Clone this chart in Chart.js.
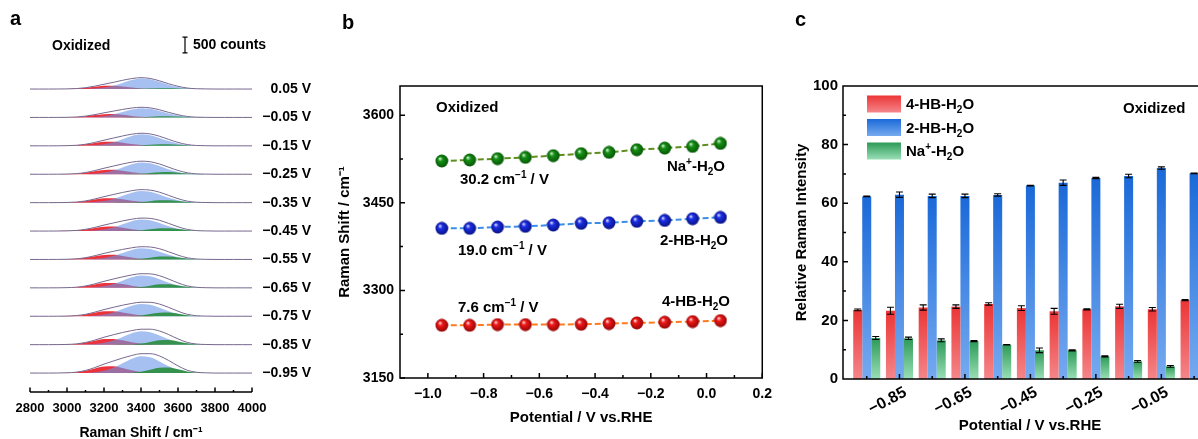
<!DOCTYPE html>
<html>
<head>
<meta charset="utf-8">
<script src="https://cdn.jsdelivr.net/npm/chart.js@4.4.1/dist/chart.umd.min.js"></script>
<style>
html, body { margin:0; padding:0; background:#fff; overflow:hidden; width:1198px; height:439px; position:relative; }
canvas { position:absolute; top:0; }
</style>
</head>
<body>
<canvas id="ca" width="330" height="439" style="left:0;width:330px;height:439px"></canvas>
<canvas id="cb" width="450" height="439" style="left:330px;width:450px;height:439px"></canvas>
<canvas id="cc" width="432" height="439" style="left:790px;width:432px;height:439px"></canvas>
<script>
// ---------- panel a : stacked Raman spectra ----------
const ramanX = [2800,2850,2900,2950,3000,3050,3100,3150,3200,3250,3300,3350,3400,
                3450,3500,3550,3600,3650,3700,3750,3800,3850,3900,3950,4000];
const ramanTicks = [2800,3000,3200,3400,3600,3800,4000];
const spectraLabels = ['0.05 V','\u22120.05 V','\u22120.15 V','\u22120.25 V','\u22120.35 V','\u22120.45 V',
                       '\u22120.55 V','\u22120.65 V','\u22120.75 V','\u22120.85 V','\u22120.95 V'];
// fitted component shapes (normalised)
const redShape   = [0,0,0,0.01,0.04,0.13,0.35,0.67,0.95,0.98,0.74,0.41,0.17,0.05,0.01,0,0,0,0,0,0,0,0,0,0];
const blueShape  = [0,0,0,0,0,0,0.01,0.05,0.14,0.31,0.58,0.85,1.0,0.93,0.69,0.41,0.2,0.07,0.02,0.01,0,0,0,0,0];
const greenShape = [0,0,0,0,0,0,0,0,0,0,0.01,0.06,0.22,0.57,0.92,0.96,0.65,0.28,0.08,0.01,0,0,0,0,0];
// peak heights in counts, top trace (0.05 V) first
const redAmp   = [110,110,135,145,145,145,150,160,165,185,220];
const blueAmp  = [335,295,365,375,370,365,355,395,390,425,535];
const greenAmp = [30,40,55,70,80,95,100,120,125,150,185];
const GAP = 900;

// ---------- panel b : peak positions ----------
const potB = [-0.95,-0.85,-0.75,-0.65,-0.55,-0.45,-0.35,-0.25,-0.15,-0.05,0.05];
const naShift  = [3521.6,3523.3,3525.6,3527.8,3530.7,3534.1,3536.4,3540.9,3543.7,3546.6,3551.7];
const hb2Shift = [3406.3,3406.3,3408.5,3409.7,3411.9,3414.8,3415.9,3418.2,3419.9,3422.7,3425.0];
const hb4Shift = [3240.3,3240.3,3241.5,3241.5,3241.5,3242.0,3243.2,3244.3,3245.5,3246.6,3248.3];
const bXTicks = [-1.0,-0.8,-0.6,-0.4,-0.2,0.0,0.2];
const bYTicks = [3150,3300,3450,3600];

// ---------- panel c : relative intensities ----------
const potC = [-0.95,-0.85,-0.75,-0.65,-0.55,-0.45,-0.35,-0.25,-0.15,-0.05,0.05];
const hb4Int = [23.6,23.3,24.4,24.7,25.6,24.2,23.1,23.8,24.8,23.8,26.9];
const hb4Err = [0.3,1.2,0.9,0.6,0.4,0.8,1.0,0.2,0.7,0.6,0.2];
const hb2Int = [62.3,62.9,62.5,62.5,62.8,66.0,67.0,68.6,69.3,72.0,70.2];
const hb2Err = [0.1,0.9,0.6,0.6,0.4,0.1,0.9,0.2,0.6,0.4,0.1];
const naInt  = [14.0,13.9,13.2,12.9,11.7,9.8,9.8,7.7,6.0,4.3,2.9];
const naErr  = [0.5,0.4,0.5,0.2,0.1,0.8,0.2,0.2,0.3,0.3,0.2];
const cXTicks = [-0.85,-0.65,-0.45,-0.25,-0.05];
const cYTicks = [0,20,40,60,80,100];

const FONT = '"Liberation Sans", Arial, Helvetica, sans-serif';
Chart.defaults.font.family = FONT;
Chart.defaults.font.weight = 'bold';
Chart.defaults.color = '#000';

function minus(v, d) { return (v < 0 ? '\u2212' : '') + Math.abs(v).toFixed(d); }

// text with ^{sup} and _{sub}
function rich(ctx, str, x, y, size, align) {
  const parts = [];
  const re = /([\^_])\{([^}]*)\}|([^\^_]+)/g;
  let m;
  while ((m = re.exec(str))) {
    if (m[3]) parts.push([m[3], 0]);
    else parts.push([m[2], m[1] === '^' ? 1 : -1]);
  }
  const small = Math.round(size * 0.65);
  let w = 0;
  parts.forEach(p => {
    ctx.font = 'bold ' + (p[1] ? small : size) + 'px ' + FONT;
    p.w = ctx.measureText(p[0]).width;
    w += p.w;
  });
  let cx = align === 'right' ? x - w : align === 'center' ? x - w / 2 : x;
  const base = y + size * 0.36;
  ctx.textAlign = 'left';
  ctx.textBaseline = 'alphabetic';
  ctx.fillStyle = '#000';
  parts.forEach(p => {
    ctx.font = 'bold ' + (p[1] ? small : size) + 'px ' + FONT;
    const dy = p[1] === 1 ? -size * 0.42 : p[1] === -1 ? size * 0.25 : 0;
    ctx.fillText(p[0], cx, base + dy);
    cx += p.w;
  });
}

function letter(ctx, t, x, y) {
  ctx.font = 'bold 20px ' + FONT;
  ctx.fillStyle = '#000';
  ctx.textAlign = 'left';
  ctx.textBaseline = 'alphabetic';
  ctx.fillText(t, x, y);
}

// ======================= PANEL A =======================
const dsA = [];
spectraLabels.forEach((lab, i) => {
  const base = (spectraLabels.length - 1 - i) * GAP;
  const comp = (shape, amp) => ramanX.map((x, k) => ({x: x, y: base + shape[k] * amp}));
  const env = ramanX.map((x, k) => ({
    x: x,
    y: base + redShape[k] * redAmp[i] + blueShape[k] * blueAmp[i] + greenShape[k] * greenAmp[i]
  }));
  dsA.push({data: env, borderColor: '#76688e', borderWidth: 1, fill: false, order: 0});
  dsA.push({data: comp(greenShape, greenAmp[i]), borderWidth: 0, backgroundColor: 'rgba(40,140,60,0.9)', fill: {value: base}, order: 1});
  dsA.push({data: comp(blueShape, blueAmp[i]), borderWidth: 0, backgroundColor: 'rgba(105,150,232,0.6)', fill: {value: base}, order: 2});
  dsA.push({data: comp(redShape, redAmp[i]), borderWidth: 0, backgroundColor: 'rgba(235,40,50,0.95)', fill: {value: base}, order: 3});
});

const baseLabel = {};
spectraLabels.forEach((lab, i) => { baseLabel[(spectraLabels.length - 1 - i) * GAP] = lab; });

const panelA = {
  id: 'panelA',
  afterDraw(chart) {
    const ctx = chart.ctx, a = chart.chartArea, xs = chart.scales.x, ys = chart.scales.y;
    ctx.save();
    ctx.strokeStyle = '#000';
    ctx.lineWidth = 1.5;
    ctx.beginPath();
    ctx.moveTo(a.left, a.bottom); ctx.lineTo(a.right, a.bottom);
    ramanTicks.forEach(v => {
      const x = xs.getPixelForValue(v);
      ctx.moveTo(x, a.bottom); ctx.lineTo(x, a.bottom - 4.5);
    });
    for (let i = 0; i < ramanTicks.length - 1; i++) {
      const x = xs.getPixelForValue((ramanTicks[i] + ramanTicks[i + 1]) / 2);
      ctx.moveTo(x, a.bottom); ctx.lineTo(x, a.bottom - 2);
    }
    ctx.stroke();
    // 500 counts scale bar
    const h = ys.getPixelForValue(0) - ys.getPixelForValue(500);
    const bx = 185, by = 45;
    ctx.lineWidth = 1.2;
    ctx.beginPath();
    ctx.moveTo(bx, by - h / 2); ctx.lineTo(bx, by + h / 2);
    ctx.moveTo(bx - 2.5, by - h / 2); ctx.lineTo(bx + 2.5, by - h / 2);
    ctx.moveTo(bx - 2.5, by + h / 2); ctx.lineTo(bx + 2.5, by + h / 2);
    ctx.stroke();
    rich(ctx, '500 counts', 193, 44, 14, 'left');
    rich(ctx, 'Oxidized', 52, 45, 14, 'left');
    letter(ctx, 'a', 10, 25);
    ctx.restore();
  }
};

new Chart(document.getElementById('ca'), {
  type: 'line',
  data: {datasets: dsA},
  options: {
    responsive: false,
    animation: false,
    layout: {padding: {left: 30, right: 19, top: 60, bottom: 0}},
    elements: {point: {radius: 0}, line: {cubicInterpolationMode: 'monotone'}},
    plugins: {legend: {display: false}, tooltip: {enabled: false}},
    scales: {
      x: {
        type: 'linear', min: 2800, max: 4000,
        grid: {display: false, drawTicks: false}, border: {display: false},
        afterBuildTicks: s => { s.ticks = ramanTicks.map(v => ({value: v})); },
        afterFit: s => { s.height = 47; },
        ticks: {font: {size: 13, weight: 'bold'}, padding: 9, maxRotation: 0, callback: v => String(v)},
        title: {display: true, text: 'Raman Shift / cm\u207B\u00B9', font: {size: 14, weight: 'bold'}, padding: {top: 0, bottom: -3}}
      },
      y: {
        type: 'linear', position: 'right', min: -600, max: 9920,
        grid: {display: false, drawTicks: false}, border: {display: false},
        afterBuildTicks: s => { s.ticks = Object.keys(baseLabel).map(v => ({value: +v})); },
        afterFit: s => { s.width = 59; },
        ticks: {font: {size: 14, weight: 'bold'}, crossAlign: 'far', padding: 0, callback: v => baseLabel[v] || ''}
      }
    }
  },
  plugins: [panelA]
});

// ======================= PANEL B =======================
function sphere(light, mid, dark) {
  const c = document.createElement('canvas');
  c.width = 14; c.height = 14;
  const g = c.getContext('2d');
  const grd = g.createRadialGradient(5, 4.5, 0.3, 7, 7, 7);
  grd.addColorStop(0, light);
  grd.addColorStop(0.3, mid);
  grd.addColorStop(1, dark);
  g.fillStyle = grd;
  g.beginPath(); g.arc(7, 7, 6.4, 0, Math.PI * 2); g.fill();
  return c;
}
const pts = (ys) => potB.map((x, i) => ({x: x, y: ys[i]}));

const panelB = {
  id: 'panelB',
  afterDraw(chart) {
    const ctx = chart.ctx, a = chart.chartArea, xs = chart.scales.x, ys = chart.scales.y;
    ctx.save();
    ctx.strokeStyle = '#000';
    ctx.lineWidth = 1.5;
    ctx.strokeRect(a.left, a.top, a.right - a.left, a.bottom - a.top);
    ctx.beginPath();
    bXTicks.forEach(v => {
      const x = xs.getPixelForValue(v);
      ctx.moveTo(x, a.bottom); ctx.lineTo(x, a.bottom - 5);
      if (v + 0.1 < xs.max) {
        const m = xs.getPixelForValue(v + 0.1);
        ctx.moveTo(m, a.bottom); ctx.lineTo(m, a.bottom - 3);
      }
    });
    bYTicks.forEach(v => {
      const y = ys.getPixelForValue(v);
      ctx.moveTo(a.left, y); ctx.lineTo(a.left + 5, y);
      if (v + 75 < ys.max) {
        const m = ys.getPixelForValue(v + 75);
        ctx.moveTo(a.left, m); ctx.lineTo(a.left + 3, m);
      }
    });
    ctx.stroke();
    rich(ctx, 'Oxidized', 106, 107, 15, 'left');
    rich(ctx, 'Na^{+}-H_{2}O', 395, 166, 15, 'right');
    rich(ctx, '30.2 cm^{\u22121} / V', 130, 179, 15, 'left');
    rich(ctx, '2-HB-H_{2}O', 398, 240, 15, 'right');
    rich(ctx, '19.0 cm^{\u22121} / V', 128, 250, 15, 'left');
    rich(ctx, '4-HB-H_{2}O', 400, 301, 15, 'right');
    rich(ctx, '7.6 cm^{\u22121} / V', 128, 307, 15, 'left');
    letter(ctx, 'b', 12, 29);
    ctx.restore();
  }
};

new Chart(document.getElementById('cb'), {
  type: 'line',
  data: {
    datasets: [
      {data: pts(naShift), borderColor: '#5e8f1e', borderDash: [6, 3], borderWidth: 2,
       pointStyle: sphere('#d8f5d8', '#169016', '#045004')},
      {data: pts(hb2Shift), borderColor: '#3a8ee8', borderDash: [6, 3], borderWidth: 2,
       pointStyle: sphere('#dcdcff', '#1c2ee6', '#06107a')},
      {data: pts(hb4Shift), borderColor: '#ff7a1e', borderDash: [6, 3], borderWidth: 2,
       pointStyle: sphere('#ffe0e0', '#f01818', '#8a0404')}
    ]
  },
  options: {
    responsive: false,
    animation: false,
    layout: {padding: {left: 0, right: 17, top: 86, bottom: 0}},
    plugins: {legend: {display: false}, tooltip: {enabled: false}},
    scales: {
      x: {
        type: 'linear', min: -1.1, max: 0.2,
        grid: {display: false, drawTicks: false}, border: {display: false},
        afterBuildTicks: s => { s.ticks = bXTicks.map(v => ({value: v})); },
        afterFit: s => { s.height = 61; },
        ticks: {font: {size: 14, weight: 'bold'}, padding: 8, maxRotation: 0, callback: v => minus(v, 1)},
        title: {display: true, text: 'Potential / V vs.RHE', font: {size: 15, weight: 'bold'}, padding: {top: 0, bottom: 12}}
      },
      y: {
        type: 'linear', min: 3150, max: 3650,
        grid: {display: false, drawTicks: false}, border: {display: false},
        afterBuildTicks: s => { s.ticks = bYTicks.map(v => ({value: v})); },
        afterFit: s => { s.width = 70; },
        ticks: {font: {size: 14, weight: 'bold'}, padding: 6, callback: v => String(v)},
        title: {display: true, text: 'Raman Shift / cm\u207B\u00B9', font: {size: 15, weight: 'bold'}, padding: {top: 6, bottom: 0}}
      }
    }
  },
  plugins: [panelB]
});

// ======================= PANEL C =======================
const barColors = [
  ['#ec3535', '#f4868a'],
  ['#1a69d8', '#76aaf0'],
  ['#2c9a57', '#9adfb6']
];
function barFill(k) {
  return (c) => {
    const ch = c.chart;
    if (!ch.chartArea || !c.raw) return barColors[k][0];
    const ys = ch.scales.y;
    const top = ys.getPixelForValue(c.raw.y), bot = ys.getPixelForValue(0);
    if (!isFinite(top) || bot - top < 1) return barColors[k][0];
    const g = ch.ctx.createLinearGradient(0, top, 0, bot);
    g.addColorStop(0, barColors[k][0]);
    g.addColorStop(1, barColors[k][1]);
    return g;
  };
}
const series = (vals) => potC.map((x, i) => ({x: x, y: vals[i]}));
const errs = [hb4Err, hb2Err, naErr];
const legendC = ['4-HB-H_{2}O', '2-HB-H_{2}O', 'Na^{+}-H_{2}O'];

const panelC = {
  id: 'panelC',
  afterDatasetsDraw(chart) {
    const ctx = chart.ctx, ys = chart.scales.y;
    ctx.save();
    ctx.strokeStyle = '#000';
    ctx.lineWidth = 1.1;
    chart.data.datasets.forEach((ds, d) => {
      const meta = chart.getDatasetMeta(d);
      meta.data.forEach((el, i) => {
        const v = ds.data[i].y, e = errs[d][i];
        const y1 = ys.getPixelForValue(v + e), y2 = ys.getPixelForValue(v - e);
        ctx.beginPath();
        ctx.moveTo(el.x, y1); ctx.lineTo(el.x, y2);
        ctx.moveTo(el.x - 3.5, y1); ctx.lineTo(el.x + 3.5, y1);
        ctx.moveTo(el.x - 3.5, y2); ctx.lineTo(el.x + 3.5, y2);
        ctx.stroke();
      });
    });
    ctx.restore();
  },
  afterDraw(chart) {
    const ctx = chart.ctx, a = chart.chartArea, xs = chart.scales.x, ys = chart.scales.y;
    ctx.save();
    ctx.strokeStyle = '#000';
    ctx.lineWidth = 1.5;
    ctx.beginPath();
    ctx.moveTo(a.right, a.top); ctx.lineTo(a.left, a.top);
    ctx.lineTo(a.left, a.bottom); ctx.lineTo(a.right, a.bottom);
    potC.forEach(v => {
      const x = xs.getPixelForValue(v);
      const major = cXTicks.some(t => Math.abs(t - v) < 1e-6);
      ctx.moveTo(x, a.bottom); ctx.lineTo(x, a.bottom - (major ? 5 : 3));
    });
    cYTicks.forEach(v => {
      const y = ys.getPixelForValue(v);
      ctx.moveTo(a.left, y); ctx.lineTo(a.left + 5, y);
      if (v < 100) {
        const m = ys.getPixelForValue(v + 10);
        ctx.moveTo(a.left, m); ctx.lineTo(a.left + 3, m);
      }
    });
    ctx.stroke();
    // legend
    legendC.forEach((t, k) => {
      const cy = 104 + k * 23.5;
      const g = ctx.createLinearGradient(0, cy - 8.5, 0, cy + 8.5);
      g.addColorStop(0, barColors[k][0]);
      g.addColorStop(1, barColors[k][1]);
      ctx.fillStyle = g;
      ctx.fillRect(77, cy - 8.5, 34, 17);
      rich(ctx, t, 116, cy, 15, 'left');
    });
    rich(ctx, 'Oxidized', 333, 108, 15, 'left');
    letter(ctx, 'c', 5, 26);
    ctx.restore();
  }
};

new Chart(document.getElementById('cc'), {
  type: 'bar',
  data: {
    datasets: [
      {data: series(hb4Int), backgroundColor: barFill(0)},
      {data: series(hb2Int), backgroundColor: barFill(1)},
      {data: series(naInt), backgroundColor: barFill(2)}
    ]
  },
  options: {
    responsive: false,
    animation: false,
    categoryPercentage: 0.826,
    barPercentage: 1.0,
    layout: {padding: {left: 0, right: 5, top: 86, bottom: 0}},
    plugins: {legend: {display: false}, tooltip: {enabled: false}},
    scales: {
      x: {
        type: 'linear', min: -1.0225, max: 0.12, offset: false,
        grid: {display: false, drawTicks: false}, border: {display: false},
        afterBuildTicks: s => { s.ticks = cXTicks.map(v => ({value: v})); },
        afterFit: s => { s.height = 60; },
        ticks: {font: {size: 16, weight: 'bold'}, padding: 4, labelOffset: 6, minRotation: 28, maxRotation: 28, callback: v => minus(v, 2)},
        title: {display: true, text: 'Potential / V vs.RHE', font: {size: 15, weight: 'bold'}, padding: {top: 0, bottom: 4}}
      },
      y: {
        type: 'linear', min: 0, max: 100,
        grid: {display: false, drawTicks: false}, border: {display: false},
        afterBuildTicks: s => { s.ticks = cYTicks.map(v => ({value: v})); },
        afterFit: s => { s.width = 53; },
        ticks: {font: {size: 15, weight: 'bold'}, padding: 5, callback: v => String(v)},
        title: {display: true, text: 'Relative Raman Intensity', font: {size: 15, weight: 'bold'}, padding: {top: 3, bottom: 0}}
      }
    }
  },
  plugins: [panelC]
});
</script>
</body>
</html>
